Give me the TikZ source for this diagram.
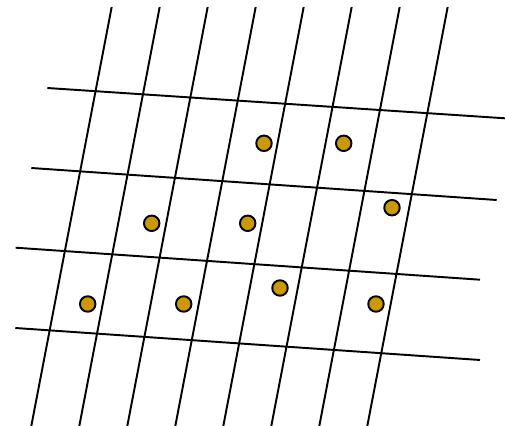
\documentclass[tikz,border=0pt]{standalone}
\definecolor{gold}{RGB}{204,153,0}
\tikzset{
  gridline/.style={line width=1.1pt},
  site/.style={circle,draw,line width=1.1pt,fill=gold,inner sep=0pt,minimum size=0.31cm}
}
\begin{document}
\begin{tikzpicture}[x=0.02cm,y=-0.02cm]
\useasboundingbox (0,0) rectangle (505,426);
% slanted lines
\foreach \i in {0,...,7}
  \draw[gridline] (111.7+48*\i,7) -- (31.3+48*\i,426);
% near-horizontal lines
\draw[gridline] (47.3,88) -- (505,118.3);
\draw[gridline] (31.3,168) -- (496.7,200);
\draw[gridline] (15.7,247.7) -- (480,279.7);
\draw[gridline] (15.3,328) -- (480,360);
% sites
\node[site] (s1) at (264,143.3) {};
\node[site] (s2) at (343.7,143.3) {};
\node[site] (s3) at (151.7,223.3) {};
\node[site] (s4) at (247.7,223.3) {};
\node[site] (s5) at (392,207.7) {};
\node[site] (s6) at (87.7,304) {};
\node[site] (s7) at (183.7,304) {};
\node[site] (s8) at (280,288) {};
\node[site] (s9) at (376,304) {};
\end{tikzpicture}
\end{document}
